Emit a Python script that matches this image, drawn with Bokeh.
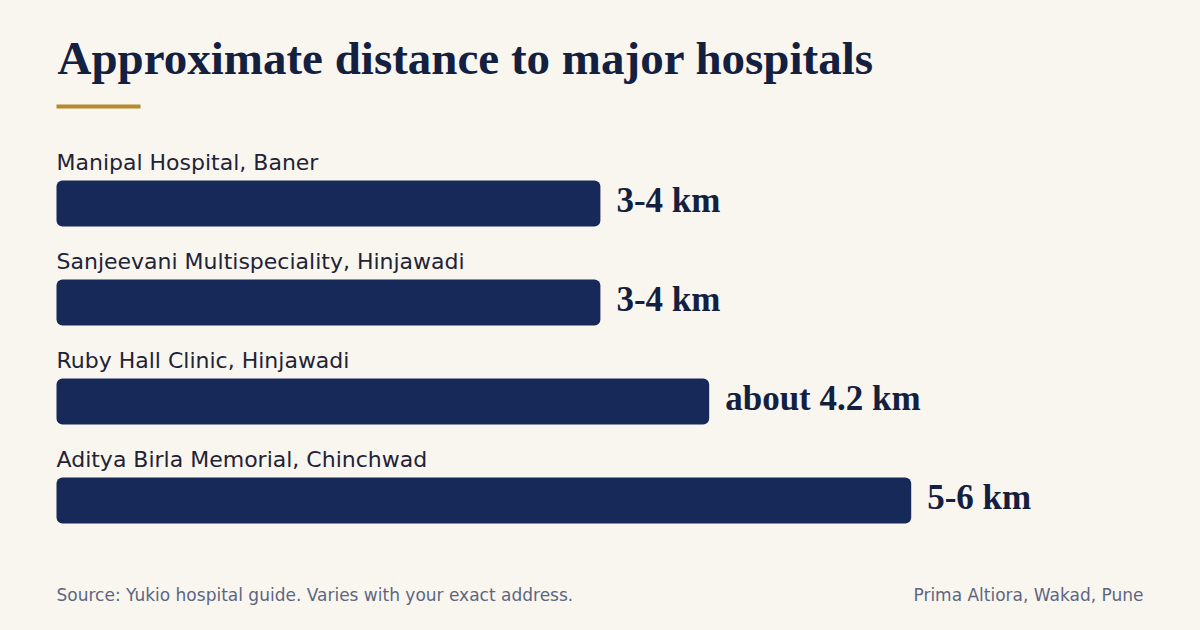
from bokeh.plotting import figure
from bokeh.models import ColumnDataSource, Range1d, Label, BoxAnnotation
from bokeh.core.properties import value
from bokeh.embed import file_html
from bokeh.resources import INLINE

# ---- data ----
hospitals = ["Manipal Hospital, Baner", "Sanjeevani Multispeciality, Hinjawadi",
             "Ruby Hall Clinic, Hinjawadi", "Aditya Birla Memorial, Chinchwad"]
distances_km = [3.5, 3.5, 4.2, 5.5]
distance_labels = ["3-4 km", "3-4 km", "about 4.2 km", "5-6 km"]

title_text = "Approximate distance to major hospitals"
source_text = "Source: Yukio hospital guide. Varies with your exact address."
credit_text = "Prima Altiora, Wakad, Pune"

# ---- styling / layout ----
W, H = 1184, 614
BG = "#f9f6f0"
NAVY = "#172958"
INK = "#13203f"
LABEL = "#1f2335"
MUTED = "#5d6680"
GOLD = "#b8892b"

PPK = 155.4          # pixels per km
X0 = 56              # pixel where 0 km sits
ROW0, ROW_STEP, BAR_H = 203, 99, 46

ys = [ROW0 + i * ROW_STEP for i in range(len(hospitals))]
src = ColumnDataSource(dict(
    y=ys, d=distances_km, name=hospitals, lab=distance_labels,
    ylab=[y - 41 for y in ys], yval=[y - 3.5 for y in ys],
    zero=[0] * len(ys)))

p = figure(width=W, height=H, output_backend="svg", toolbar_location=None,
           x_range=Range1d(-X0 / PPK, (W - X0) / PPK),
           y_range=Range1d(H, 0),
           min_border=0, min_border_left=0, min_border_right=0,
           min_border_top=0, min_border_bottom=0)
p.axis.visible = False
p.grid.visible = False
p.outline_line_color = None
p.background_fill_color = BG
p.border_fill_color = BG

p.hbar(y="y", left="zero", right="d", height=BAR_H, source=src,
       fill_color=NAVY, line_color=None, border_radius=6)

p.text(x="zero", y="ylab", text="name", source=src,
       text_font=value("DejaVu Sans"), text_font_size="22px",
       text_color=LABEL, text_baseline="middle", text_align="left")

p.text(x="d", y="yval", text="lab", source=src, x_offset=16,
       text_font=value("Liberation Serif"), text_font_size="35px",
       text_font_style="bold", text_color=INK,
       text_baseline="middle", text_align="left")

p.add_layout(Label(x=0, y=57.5, text=title_text, x_offset=1,
                   text_font="Liberation Serif", text_font_size="47px",
                   text_font_style="bold", text_color=INK,
                   text_baseline="middle", text_align="left"))

p.add_layout(BoxAnnotation(left=0, right=84 / PPK, top=104, bottom=108,
                           fill_color=GOLD, fill_alpha=1, line_color=None))

p.add_layout(Label(x=0, y=594, text=source_text,
                   text_font="DejaVu Sans", text_font_size="17px",
                   text_color=MUTED, text_baseline="middle", text_align="left"))
p.add_layout(Label(x=(1143 - X0) / PPK, y=594, text=credit_text,
                   text_font="DejaVu Sans", text_font_size="17px",
                   text_color=MUTED, text_baseline="middle", text_align="right"))

html = file_html(p, INLINE, title="Hospitals")
html = html.replace("</head>",
                    "<style>html,body{background:%s;}</style></head>" % BG, 1)
open("out.html", "w").write(html)
